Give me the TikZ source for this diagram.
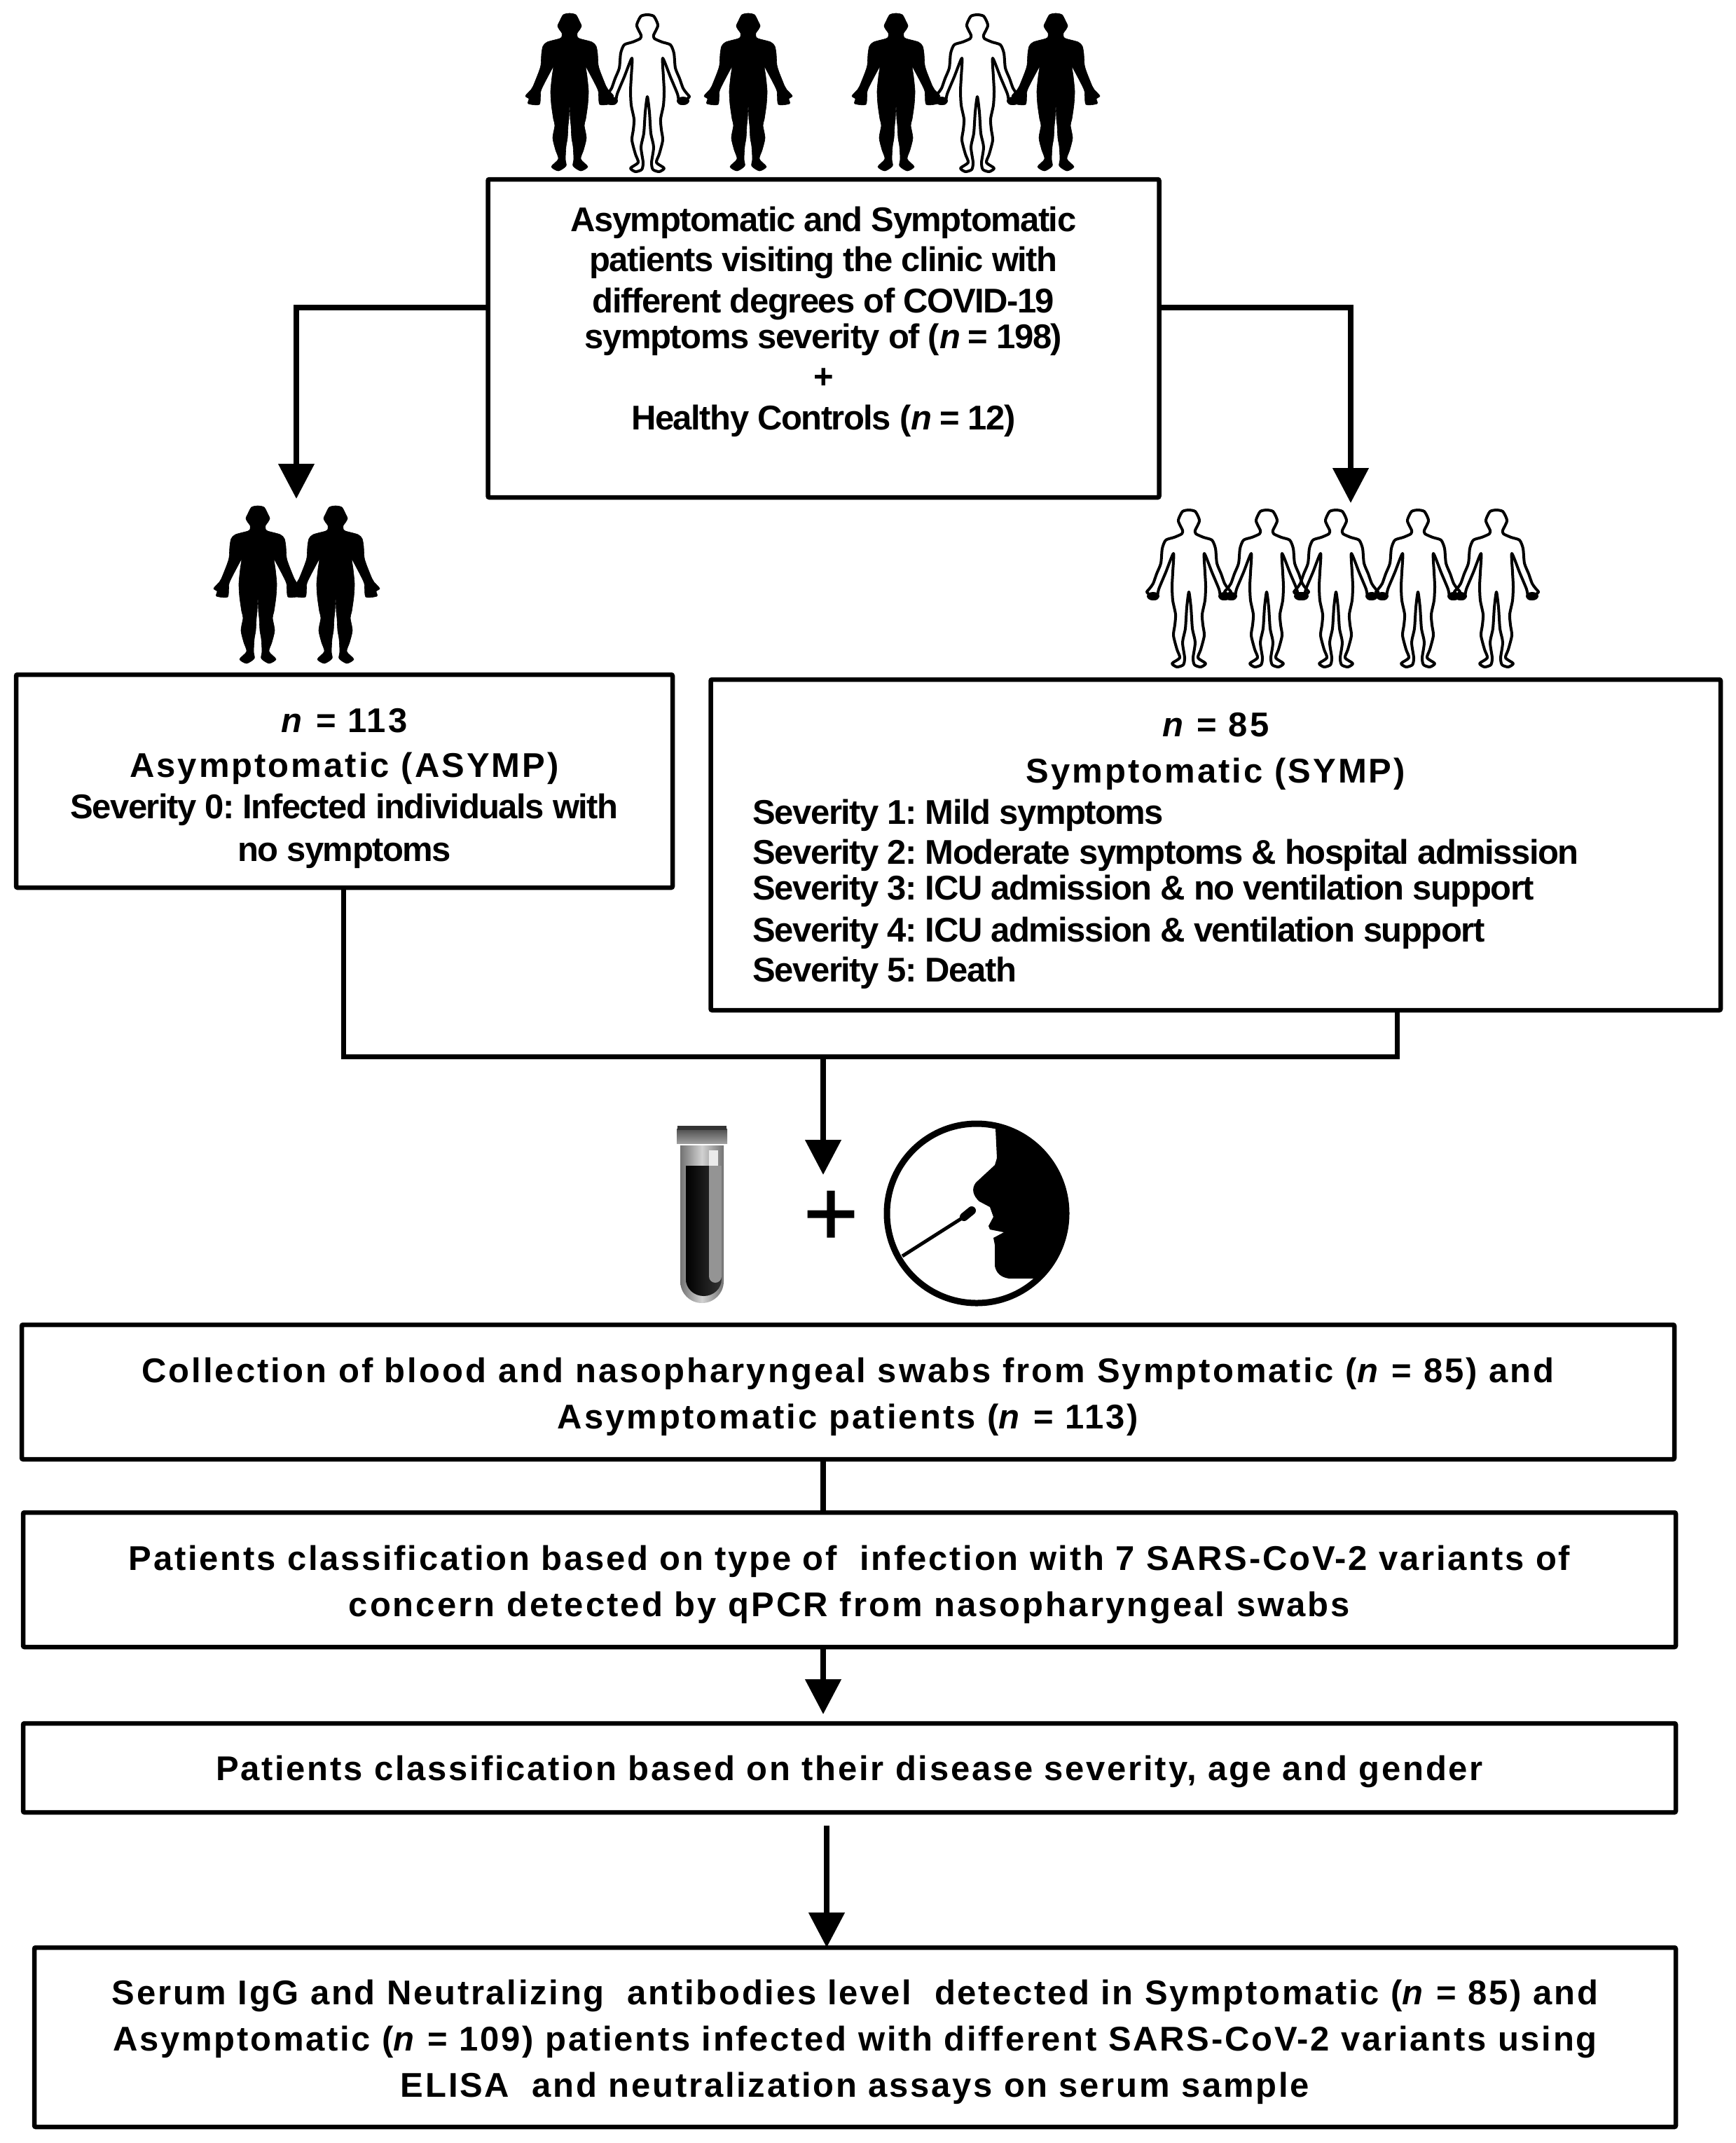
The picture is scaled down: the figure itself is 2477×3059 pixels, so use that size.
\documentclass[tikz,border=0pt]{standalone}
\usepackage{fontspec}
\setmainfont{Liberation Sans}
\newfontfamily\tightf[LetterSpace=-3.1]{Liberation Sans}
\newfontfamily\widef[LetterSpace=5.6]{Liberation Sans}
\newfontfamily\widerf[LetterSpace=6.2]{Liberation Sans}
\newfontfamily\plusf[FakeBold=1.2]{Liberation Sans}
\usetikzlibrary{arrows.meta,calc}
\newcommand{\lift}[1]{\rule{0pt}{#1pt}}
\newcommand{\solidplot}{plot[smooth cycle,tension=.42] coordinates {
 (0,0)(9,2)(14,11)(17,18)(14,24)(11,28)(11,33)(14,36)(32,41)(38,47)(40,58)(41,74)(44,84)(52,104)(55,109)(63,118)(58,122)(59,129)(43,130)(41,111)(34,96)(26,81)(23,76)(25,90)(27,111)(26,130)(23,151)(21,160)(24,178)(20,195)(16,208)(26,219)(16,225)(5,218)(6,208)(5,190)(3,178)(2,160)(1,151)(0,131)
 (-1,151)(-2,160)(-3,178)(-5,190)(-6,208)(-5,218)(-16,225)(-26,219)(-16,208)(-20,195)(-24,178)(-21,160)(-23,151)(-26,130)(-27,111)(-25,90)(-23,76)(-26,81)(-34,96)(-41,111)(-43,130)(-59,129)(-58,122)(-63,118)(-55,109)(-52,104)(-44,84)(-41,74)(-40,58)(-38,47)(-32,41)(-14,36)(-11,33)(-11,28)(-14,24)(-17,18)(-14,11)(-9,2)}}
\newcommand{\hollowplot}{plot[smooth cycle,tension=.42] coordinates {
 (0,1)(9,3)(14,12)(15,17)(12,24)(9,30)(10,35)(21,40)(33,44)(38,56)(40,77)(46,92)(51,106)(56,113)(60,118)(56,122)(55,127)(46,127)(43,114)(33,90)(22,63)(23,90)(24,110)(23,130)(19,150)(20,165)(22,180)(17,200)(13,212)(24,220)(17,225)(8,222)(6,212)(9,190)(5,170)(3,140)(0,118)
 (-3,140)(-5,170)(-9,190)(-6,212)(-8,222)(-17,225)(-24,220)(-13,212)(-17,200)(-22,180)(-20,165)(-19,150)(-23,130)(-24,110)(-23,90)(-22,63)(-33,90)(-43,114)(-46,127)(-55,127)(-56,122)(-60,118)(-56,113)(-51,106)(-46,92)(-40,77)(-38,56)(-33,44)(-21,40)(-10,35)(-9,30)(-12,24)(-15,17)(-14,12)(-9,3)}}
\tikzset{
 solidman/.pic={\fill[black,draw=black,line width=.6pt,line join=round] \solidplot;},
 hollowman/.pic={\draw[black,line width=4pt,line join=round] \hollowplot;
   \fill[black] (51,124) ellipse[x radius=9,y radius=6]; \fill[black] (-51,124) ellipse[x radius=9,y radius=6];},
 flowbox/.style={draw=black,line width=6.5pt,rectangle,rounded corners=2pt,outer sep=0pt,inner sep=0pt,align=center},
 link/.style={draw=black,line width=7pt},
 arrowlink/.style={draw=black,line width=8pt,-{Triangle[length=50pt,width=50pt]}},
 tighttext/.style={font=\tightf\fontsize{49}{57}\selectfont\bfseries\frenchspacing},
 widetext/.style={font=\widef\fontsize{49}{66}\selectfont\bfseries\frenchspacing},
 widertext/.style={font=\widerf\fontsize{49}{66}\selectfont\bfseries\frenchspacing},
}
\begin{document}
\begin{tikzpicture}[x=1pt,y=-1pt]
\useasboundingbox (0,0) rectangle (2477,3059);
\fill[white] (0,0) rectangle (2477,3059);
% people
\foreach \xx in {813,1068,1279,1507} \pic at (\xx,19) {solidman};
\foreach \xx in {924,1395} \pic at (\xx,20) {hollowman};
\foreach \xx in {368,479} \pic at (\xx,722) {solidman};
\foreach \xx in {1697,1808,1907,2024,2136} \pic at (\xx,727) {hollowman};
% boxes
\node[flowbox,tighttext,minimum width=958pt,minimum height=454pt] (top) at (1175.5,483) {Asymptomatic and Symptomatic\\[0pt]patients visiting the clinic with\\[2pt]different degrees of COVID-19\\[-6pt]symptoms severity of (\textit{n} = 198)\\+\\[2pt]Healthy Controls (\textit{n} = 12)\\\mbox{}};
\node[flowbox,tighttext,minimum width=937pt,minimum height=304pt] (asymp) at (491.5,1115) {\widerf\bfseries\lift{55}\textit{n} = 113\\[7pt]\widerf\bfseries Asymptomatic (ASYMP)\\[2pt]\tightf\bfseries Severity 0: Infected individuals with\\[4pt]\tightf\bfseries no symptoms};
\node[flowbox,tighttext,align=left,text width=1321pt,minimum width=1441.5pt,minimum height=472pt] (symp) at (1735.25,1206) {\spaceskip=0pt\xspaceskip=0pt\widerf\bfseries\makebox[\linewidth]{\lift{51}\textit{n} = 85}\\[9pt]\makebox[\linewidth]{Symptomatic (SYMP)}\\[2pt]\tightf\bfseries Severity 1: Mild symptoms\\Severity 2: Moderate symptoms \& hospital admission\\[-6pt]Severity 3: ICU admission \& no ventilation support\\[3pt]Severity 4: ICU admission \& ventilation support\\Severity 5: Death};
\node[flowbox,widertext,minimum width=2359pt,minimum height=192pt] (collect) at (1210.5,1987) {\lift{50}Collection of blood and nasopharyngeal swabs from Symptomatic (\textit{n} = 85) and\\Asymptomatic patients (\textit{n} = 113)};
\node[flowbox,widetext,minimum width=2359pt,minimum height=192pt] (variants) at (1212.5,2255) {\lift{50}Patients classification based on type of\ \ infection with 7 SARS-CoV-2 variants of\\\widerf\bfseries concern detected by qPCR from nasopharyngeal swabs};
\node[flowbox,widetext,minimum width=2359pt,minimum height=127pt] (severity) at (1212.5,2523.5) {\lift{47}Patients classification based on their disease severity, age and gender};
\node[flowbox,widetext,minimum width=2343pt,minimum height=256pt] (serum) at (1220.5,2908) {\lift{50}Serum IgG and Neutralizing\ \ antibodies level\ \ detected in Symptomatic (\textit{n} = 85) and\\Asymptomatic (\textit{n} = 109) patients infected with different SARS-CoV-2 variants using\\ELISA\ \ and neutralization assays on serum sample};
% connector anchors
\coordinate (topL) at (696.5,439);
\coordinate (topR) at (1654.5,439);
\coordinate (tipL) at (423,712);
\coordinate (tipR) at (1928,718);
\coordinate (asympOut) at (490,1267);
\coordinate (sympOut) at (1994,1442);
\coordinate (merge) at (1175,1508);
\coordinate (tipTube) at (1175,1677);
\coordinate (tipSeverity) at (1175,2447);
\coordinate (stub) at (1180,2606);
% connectors
\draw[arrowlink] (topL) -| (tipL);
\draw[arrowlink] (topR) -| (tipR);
\draw[link,line join=miter] (asympOut) |- (sympOut |- merge) -- (sympOut);
\draw[arrowlink] (merge) -- (tipTube);
\draw[link,line width=8pt] (collect.south -| 1175,0) -- (variants.north -| 1175,0);
\draw[arrowlink] (variants.south -| 1175,0) -- (tipSeverity);
\draw[arrowlink] (stub) -- (serum.north -| stub);
% plus
\node[font=\plusf\fontsize{134}{134}\selectfont,inner sep=0pt] (plus) at (1186,1739) {+};
% blood tube
\shade[left color=black!55,right color=black!55,middle color=black!18] (971,1635) -- (971,1829) arc[start angle=180,end angle=0,radius=31] -- (1033,1635) -- cycle;
\shade[left color=black,right color=black!80] (979,1664) -- (979,1826) arc[start angle=180,end angle=0,x radius=25.5,y radius=24] -- (1030,1664) -- cycle;
\fill[black!42] (1012,1664) -- (1012,1822) arc[start angle=180,end angle=0,radius=9] -- (1030,1664) -- cycle;
\fill[black!8] (1012,1642) rectangle (1025,1664);
\shade[top color=black!70,bottom color=black!38] (966,1611) rectangle (1038,1632);
\fill[black!80] (967,1607) rectangle (1037,1613);
% swab icon
\coordinate (swabC) at (1394,1732);
\begin{scope}
 \clip (swabC) circle[radius=132];
 \fill[black] (1420,1590) -- (1423,1653) -- (1420,1663) -- (1393,1688) .. controls (1386,1697) and (1389,1707) .. (1398,1715) -- (1413,1723) -- (1418,1737) -- (1411,1750) -- (1413,1755) -- (1433,1759) -- (1418,1767) -- (1420,1777) -- (1420,1807) .. controls (1422,1817) and (1428,1823) .. (1440,1825) -- (1474,1825) -- (1540,1825) -- (1540,1590) -- cycle;
\end{scope}
\draw[black,line width=9pt] (swabC) circle[radius=128];
\draw[black,line width=5pt] (1288,1793) -- (1376,1737);
\draw[black,line width=12pt,line cap=round] (1376,1737) -- (1387,1728);
\end{tikzpicture}
\end{document}
